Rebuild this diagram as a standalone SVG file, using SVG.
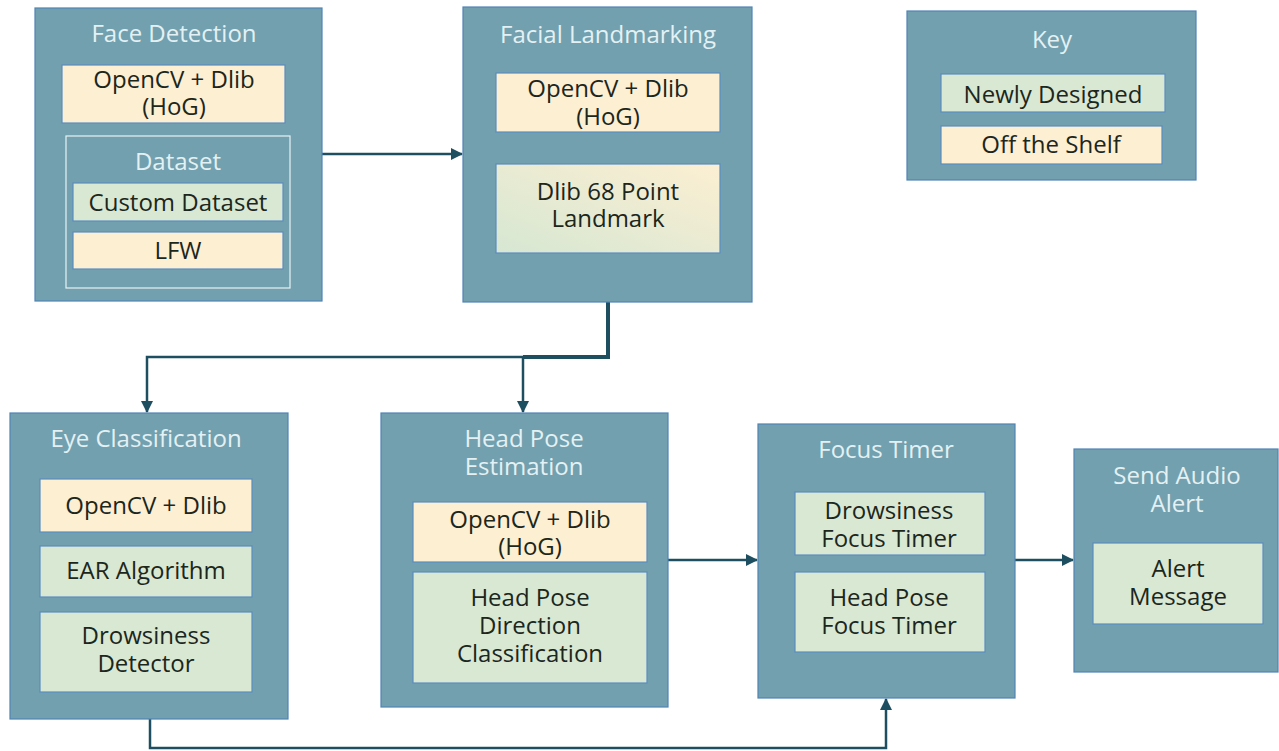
<svg xmlns="http://www.w3.org/2000/svg" width="1279" height="751" viewBox="0 0 1279 751">
  <style>
    .outer { fill: #72a0ae; stroke: #4f84b4; stroke-width: 1.2; }
    .shelf { fill: #fcefd2; stroke: #5a8cc0; stroke-width: 1.2; }
    .newd { fill: #d9e8d3; stroke: #5a8cc0; stroke-width: 1.2; }
    .mixed { fill: url(#mixFill); stroke: #5a8cc0; stroke-width: 1.2; }
    .group { fill: none; stroke: #e8f2f4; stroke-width: 1.2; }
    .title { font-family: "Open Sans", "Noto Sans", sans-serif; font-size: 24px; fill: #e4f1f4; text-anchor: middle; }
    .label { font-family: "Open Sans", "Noto Sans", sans-serif; font-size: 24px; fill: #1c261c; text-anchor: middle; }
    .wire { fill: none; stroke: #1d4f60; stroke-width: 2.5; }
    .wire-bold { fill: none; stroke: #1d4f60; stroke-width: 4; }
  </style>
  <defs>
    <linearGradient id="mixFill" x1="0" y1="1" x2="1" y2="0">
      <stop offset="0" stop-color="#d6e7d2"/>
      <stop offset="1" stop-color="#fcefd2"/>
    </linearGradient>
    <marker id="arrow" markerWidth="12" markerHeight="12" refX="11" refY="6" orient="auto" markerUnits="userSpaceOnUse">
      <path d="M0,0 L12,6 L0,12 Z" fill="#1d4f60"/>
    </marker>
  </defs>

  <rect width="1279" height="751" fill="#ffffff"/>

  <!-- connectors -->
  <g id="connectors">
    <path class="wire" d="M322,154 H462" marker-end="url(#arrow)"/>
    <path class="wire" d="M523,357 H147 V412" marker-end="url(#arrow)"/>
    <path class="wire-bold" d="M608,302 V357 H523"/>
    <path class="wire" d="M523,357 V412" marker-end="url(#arrow)"/>
    <path class="wire" d="M668,560 H757" marker-end="url(#arrow)"/>
    <path class="wire" d="M1015,560 H1073" marker-end="url(#arrow)"/>
    <path class="wire" d="M150,719 V748 H886 V699" marker-end="url(#arrow)"/>
  </g>

  <g id="face-detection">
    <rect class="outer" x="35" y="8" width="287" height="293"/>
    <text class="title" x="174" y="42">Face Detection</text>
    <rect class="shelf" x="62" y="65" width="223" height="58"/>
    <text class="label" x="174" y="88">OpenCV + Dlib</text>
    <text class="label" x="174" y="115">(HoG)</text>
    <g id="dataset">
      <rect class="group" x="66" y="136" width="224" height="152"/>
      <text class="title" x="178" y="170">Dataset</text>
      <rect class="newd" x="73" y="183" width="210" height="38"/>
      <text class="label" x="178" y="211">Custom Dataset</text>
      <rect class="shelf" x="73" y="232" width="210" height="37"/>
      <text class="label" x="178" y="259">LFW</text>
    </g>
  </g>

  <g id="facial-landmarking">
    <rect class="outer" x="463" y="7" width="289" height="295"/>
    <text class="title" x="608" y="43">Facial Landmarking</text>
    <rect class="shelf" x="496" y="73" width="224" height="59"/>
    <text class="label" x="608" y="97">OpenCV + Dlib</text>
    <text class="label" x="608" y="125">(HoG)</text>
    <rect class="mixed" x="496" y="164" width="224" height="89"/>
    <text class="label" x="608" y="200">Dlib 68 Point</text>
    <text class="label" x="608" y="227">Landmark</text>
  </g>

  <g id="key">
    <rect class="outer" x="907" y="11" width="289" height="169"/>
    <text class="title" x="1052" y="48">Key</text>
    <rect class="newd" x="941" y="74" width="224" height="38"/>
    <text class="label" x="1053" y="103">Newly Designed</text>
    <rect class="shelf" x="941" y="126" width="221" height="38"/>
    <text class="label" x="1051" y="153">Off the Shelf</text>
  </g>

  <g id="eye-classification">
    <rect class="outer" x="10" y="413" width="278" height="306"/>
    <text class="title" x="146" y="447">Eye Classification</text>
    <rect class="shelf" x="40" y="479" width="212" height="53"/>
    <text class="label" x="146" y="514">OpenCV + Dlib</text>
    <rect class="newd" x="40" y="546" width="212" height="51"/>
    <text class="label" x="146" y="579">EAR Algorithm</text>
    <rect class="newd" x="40" y="612" width="212" height="80"/>
    <text class="label" x="146" y="644">Drowsiness</text>
    <text class="label" x="146" y="672">Detector</text>
  </g>

  <g id="head-pose-estimation">
    <rect class="outer" x="381" y="413" width="287" height="294"/>
    <text class="title" x="524" y="447">Head Pose</text>
    <text class="title" x="524" y="475">Estimation</text>
    <rect class="shelf" x="413" y="502" width="234" height="60"/>
    <text class="label" x="530" y="528">OpenCV + Dlib</text>
    <text class="label" x="530" y="555">(HoG)</text>
    <rect class="newd" x="413" y="572" width="234" height="111"/>
    <text class="label" x="530" y="606">Head Pose</text>
    <text class="label" x="530" y="634">Direction</text>
    <text class="label" x="530" y="662">Classification</text>
  </g>

  <g id="focus-timer">
    <rect class="outer" x="758" y="424" width="257" height="274"/>
    <text class="title" x="886" y="458">Focus Timer</text>
    <rect class="newd" x="795" y="492" width="190" height="63"/>
    <text class="label" x="889" y="519">Drowsiness</text>
    <text class="label" x="889" y="547">Focus Timer</text>
    <rect class="newd" x="795" y="572" width="190" height="80"/>
    <text class="label" x="889" y="606">Head Pose</text>
    <text class="label" x="889" y="634">Focus Timer</text>
  </g>

  <g id="send-audio-alert">
    <rect class="outer" x="1074" y="449" width="204" height="223"/>
    <text class="title" x="1177" y="484">Send Audio</text>
    <text class="title" x="1177" y="512">Alert</text>
    <rect class="newd" x="1093" y="543" width="170" height="81"/>
    <text class="label" x="1178" y="577">Alert</text>
    <text class="label" x="1178" y="605">Message</text>
  </g>
</svg>
